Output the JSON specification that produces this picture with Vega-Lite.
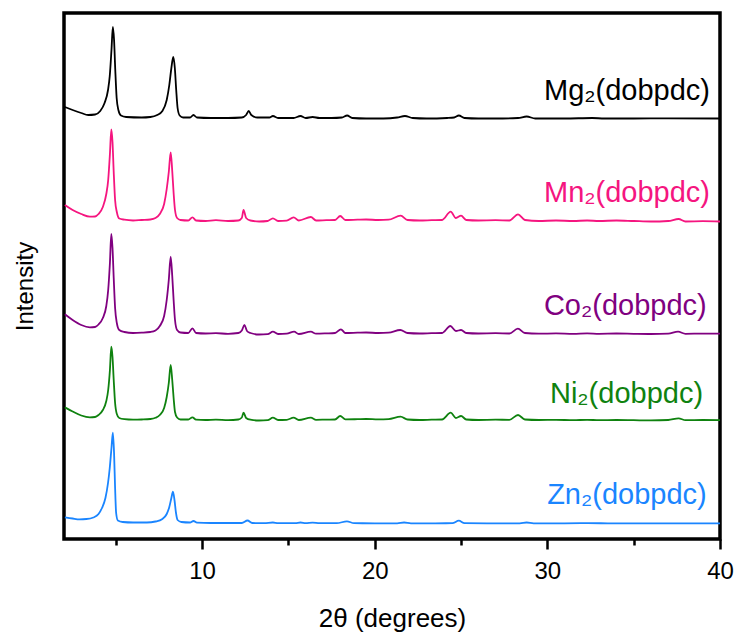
{
  "$schema": "https://vega.github.io/schema/vega-lite/v6.json",
  "width": 656,
  "height": 526,
  "autosize": {"type": "none"},
  "padding": {"left": 64, "top": 13, "right": 18, "bottom": 95},
  "background": "white",
  "config": {
    "view": {"stroke": "black", "strokeWidth": 3.5},
    "font": "Liberation Sans",
    "axis": {"grid": false, "labelFont": "Liberation Sans", "titleFont": "Liberation Sans"}
  },
  "datasets": {
    "xrd": [
      {"sample":"Mg","theta":2.05,"intensity":431},{"sample":"Mg","theta":2.5,"intensity":428},{"sample":"Mg","theta":3.0,"intensity":425},{"sample":"Mg","theta":3.4,"intensity":423},{"sample":"Mg","theta":3.8,"intensity":423.5},{"sample":"Mg","theta":4.1,"intensity":427},{"sample":"Mg","theta":4.35,"intensity":435},{"sample":"Mg","theta":4.55,"intensity":448},{"sample":"Mg","theta":4.65,"intensity":462},{"sample":"Mg","theta":4.75,"intensity":488},{"sample":"Mg","theta":4.83,"intensity":511},{"sample":"Mg","theta":4.9,"intensity":498},{"sample":"Mg","theta":4.97,"intensity":468},{"sample":"Mg","theta":5.05,"intensity":440},{"sample":"Mg","theta":5.15,"intensity":428},{"sample":"Mg","theta":5.3,"intensity":422.5},{"sample":"Mg","theta":5.6,"intensity":421},{"sample":"Mg","theta":6.5,"intensity":420.5},{"sample":"Mg","theta":7.0,"intensity":421},{"sample":"Mg","theta":7.4,"intensity":423},{"sample":"Mg","theta":7.7,"intensity":427},{"sample":"Mg","theta":7.95,"intensity":438},{"sample":"Mg","theta":8.1,"intensity":453},{"sample":"Mg","theta":8.22,"intensity":470},{"sample":"Mg","theta":8.33,"intensity":481},{"sample":"Mg","theta":8.42,"intensity":470},{"sample":"Mg","theta":8.5,"intensity":448},{"sample":"Mg","theta":8.58,"intensity":430},{"sample":"Mg","theta":8.7,"intensity":422.5},{"sample":"Mg","theta":8.9,"intensity":420.5},{"sample":"Mg","theta":9.3,"intensity":420.5},{"sample":"Mg","theta":9.5,"intensity":423},{"sample":"Mg","theta":9.7,"intensity":420.5},{"sample":"Mg","theta":10.5,"intensity":420},{"sample":"Mg","theta":11.5,"intensity":420},{"sample":"Mg","theta":12.3,"intensity":420.5},{"sample":"Mg","theta":12.55,"intensity":423},{"sample":"Mg","theta":12.7,"intensity":427},{"sample":"Mg","theta":12.85,"intensity":423},{"sample":"Mg","theta":13.2,"intensity":420.5},{"sample":"Mg","theta":13.9,"intensity":420.5},{"sample":"Mg","theta":14.1,"intensity":422},{"sample":"Mg","theta":14.4,"intensity":420},{"sample":"Mg","theta":15.3,"intensity":420},{"sample":"Mg","theta":15.7,"intensity":422},{"sample":"Mg","theta":16.0,"intensity":420},{"sample":"Mg","theta":16.4,"intensity":421},{"sample":"Mg","theta":16.8,"intensity":420},{"sample":"Mg","theta":17.5,"intensity":420},{"sample":"Mg","theta":18.1,"intensity":420.5},{"sample":"Mg","theta":18.4,"intensity":422.5},{"sample":"Mg","theta":18.7,"intensity":420},{"sample":"Mg","theta":19.5,"intensity":419.5},{"sample":"Mg","theta":20.5,"intensity":419.5},{"sample":"Mg","theta":21.3,"intensity":420.5},{"sample":"Mg","theta":21.75,"intensity":422},{"sample":"Mg","theta":22.2,"intensity":420},{"sample":"Mg","theta":23.0,"intensity":419.5},{"sample":"Mg","theta":24.2,"intensity":420},{"sample":"Mg","theta":24.6,"intensity":420.5},{"sample":"Mg","theta":24.87,"intensity":422.5},{"sample":"Mg","theta":25.2,"intensity":420},{"sample":"Mg","theta":26.0,"intensity":419.5},{"sample":"Mg","theta":27.0,"intensity":419.5},{"sample":"Mg","theta":28.3,"intensity":420},{"sample":"Mg","theta":28.8,"intensity":421.5},{"sample":"Mg","theta":29.3,"intensity":419.5},{"sample":"Mg","theta":31.0,"intensity":419.5},{"sample":"Mg","theta":32.6,"intensity":420},{"sample":"Mg","theta":33.3,"intensity":419.5},{"sample":"Mg","theta":35.0,"intensity":419.5},{"sample":"Mg","theta":37.0,"intensity":419.7},{"sample":"Mg","theta":40.0,"intensity":419.5},

      {"sample":"Mn","theta":2.05,"intensity":333},{"sample":"Mn","theta":2.5,"intensity":328},{"sample":"Mn","theta":3.0,"intensity":324},{"sample":"Mn","theta":3.5,"intensity":321.3},{"sample":"Mn","theta":3.8,"intensity":321.5},{"sample":"Mn","theta":4.0,"intensity":324},{"sample":"Mn","theta":4.25,"intensity":331},{"sample":"Mn","theta":4.45,"intensity":344},{"sample":"Mn","theta":4.56,"intensity":358},{"sample":"Mn","theta":4.66,"intensity":384},{"sample":"Mn","theta":4.74,"intensity":408.7},{"sample":"Mn","theta":4.81,"intensity":396},{"sample":"Mn","theta":4.88,"intensity":366},{"sample":"Mn","theta":4.96,"intensity":338},{"sample":"Mn","theta":5.06,"intensity":326},{"sample":"Mn","theta":5.2,"intensity":319.5},{"sample":"Mn","theta":5.5,"intensity":318.3},{"sample":"Mn","theta":6.0,"intensity":317.5},{"sample":"Mn","theta":6.5,"intensity":318},{"sample":"Mn","theta":7.0,"intensity":318.5},{"sample":"Mn","theta":7.3,"intensity":320},{"sample":"Mn","theta":7.55,"intensity":324},{"sample":"Mn","theta":7.8,"intensity":334},{"sample":"Mn","theta":7.95,"intensity":349},{"sample":"Mn","theta":8.07,"intensity":366},{"sample":"Mn","theta":8.18,"intensity":385.7},{"sample":"Mn","theta":8.27,"intensity":367},{"sample":"Mn","theta":8.35,"intensity":345},{"sample":"Mn","theta":8.43,"intensity":328},{"sample":"Mn","theta":8.55,"intensity":320},{"sample":"Mn","theta":8.75,"intensity":318},{"sample":"Mn","theta":9.2,"intensity":317.5},{"sample":"Mn","theta":9.44,"intensity":320.7},{"sample":"Mn","theta":9.65,"intensity":317.5},{"sample":"Mn","theta":10.2,"intensity":317},{"sample":"Mn","theta":10.8,"intensity":317.8},{"sample":"Mn","theta":11.5,"intensity":317},{"sample":"Mn","theta":12.1,"intensity":317.5},{"sample":"Mn","theta":12.3,"intensity":320},{"sample":"Mn","theta":12.4,"intensity":328},{"sample":"Mn","theta":12.55,"intensity":320},{"sample":"Mn","theta":12.8,"intensity":317.5},{"sample":"Mn","theta":13.3,"intensity":316.5},{"sample":"Mn","theta":13.8,"intensity":317},{"sample":"Mn","theta":14.1,"intensity":319.7},{"sample":"Mn","theta":14.4,"intensity":317},{"sample":"Mn","theta":14.9,"intensity":317.3},{"sample":"Mn","theta":15.3,"intensity":320.7},{"sample":"Mn","theta":15.6,"intensity":317.5},{"sample":"Mn","theta":16.3,"intensity":321},{"sample":"Mn","theta":16.6,"intensity":317.5},{"sample":"Mn","theta":17.2,"intensity":317.8},{"sample":"Mn","theta":17.7,"intensity":318},{"sample":"Mn","theta":18.0,"intensity":322},{"sample":"Mn","theta":18.3,"intensity":318},{"sample":"Mn","theta":19.0,"intensity":318.3},{"sample":"Mn","theta":19.5,"intensity":318.5},{"sample":"Mn","theta":20.2,"intensity":318},{"sample":"Mn","theta":20.8,"intensity":318.3},{"sample":"Mn","theta":21.5,"intensity":322.3},{"sample":"Mn","theta":21.9,"intensity":318},{"sample":"Mn","theta":22.6,"intensity":317.5},{"sample":"Mn","theta":23.3,"intensity":317.8},{"sample":"Mn","theta":23.9,"intensity":318},{"sample":"Mn","theta":24.4,"intensity":326.3},{"sample":"Mn","theta":24.7,"intensity":320},{"sample":"Mn","theta":25.0,"intensity":322.3},{"sample":"Mn","theta":25.3,"intensity":318},{"sample":"Mn","theta":26.0,"intensity":317.5},{"sample":"Mn","theta":27.0,"intensity":317.8},{"sample":"Mn","theta":27.8,"intensity":317.5},{"sample":"Mn","theta":28.3,"intensity":323.7},{"sample":"Mn","theta":28.7,"intensity":318},{"sample":"Mn","theta":29.5,"intensity":317},{"sample":"Mn","theta":30.5,"intensity":317.5},{"sample":"Mn","theta":31.5,"intensity":317},{"sample":"Mn","theta":32.3,"intensity":317.5},{"sample":"Mn","theta":33.0,"intensity":317},{"sample":"Mn","theta":34.0,"intensity":317.5},{"sample":"Mn","theta":35.0,"intensity":317},{"sample":"Mn","theta":36.0,"intensity":316.5},{"sample":"Mn","theta":37.0,"intensity":317},{"sample":"Mn","theta":37.6,"intensity":319},{"sample":"Mn","theta":38.0,"intensity":316.5},{"sample":"Mn","theta":39.0,"intensity":316.8},{"sample":"Mn","theta":40.0,"intensity":316.5},

      {"sample":"Co","theta":2.05,"intensity":223.7},{"sample":"Co","theta":2.5,"intensity":218},{"sample":"Co","theta":3.0,"intensity":213},{"sample":"Co","theta":3.5,"intensity":210.7},{"sample":"Co","theta":3.8,"intensity":211},{"sample":"Co","theta":4.0,"intensity":213.5},{"sample":"Co","theta":4.25,"intensity":220},{"sample":"Co","theta":4.45,"intensity":232},{"sample":"Co","theta":4.56,"intensity":248},{"sample":"Co","theta":4.66,"intensity":275},{"sample":"Co","theta":4.74,"intensity":304},{"sample":"Co","theta":4.81,"intensity":290},{"sample":"Co","theta":4.88,"intensity":260},{"sample":"Co","theta":4.96,"intensity":230},{"sample":"Co","theta":5.06,"intensity":215},{"sample":"Co","theta":5.2,"intensity":208},{"sample":"Co","theta":5.5,"intensity":206},{"sample":"Co","theta":6.0,"intensity":205},{"sample":"Co","theta":6.5,"intensity":205.3},{"sample":"Co","theta":7.0,"intensity":206},{"sample":"Co","theta":7.3,"intensity":207.5},{"sample":"Co","theta":7.55,"intensity":212},{"sample":"Co","theta":7.8,"intensity":222},{"sample":"Co","theta":7.95,"intensity":238},{"sample":"Co","theta":8.07,"intensity":258},{"sample":"Co","theta":8.18,"intensity":281.3},{"sample":"Co","theta":8.27,"intensity":262},{"sample":"Co","theta":8.35,"intensity":238},{"sample":"Co","theta":8.43,"intensity":218},{"sample":"Co","theta":8.55,"intensity":208},{"sample":"Co","theta":8.75,"intensity":205.5},{"sample":"Co","theta":9.2,"intensity":205},{"sample":"Co","theta":9.44,"intensity":209.7},{"sample":"Co","theta":9.65,"intensity":205},{"sample":"Co","theta":10.2,"intensity":204.5},{"sample":"Co","theta":10.8,"intensity":204.8},{"sample":"Co","theta":11.5,"intensity":204.2},{"sample":"Co","theta":12.1,"intensity":205},{"sample":"Co","theta":12.3,"intensity":207.5},{"sample":"Co","theta":12.45,"intensity":213},{"sample":"Co","theta":12.6,"intensity":207},{"sample":"Co","theta":12.8,"intensity":205},{"sample":"Co","theta":13.3,"intensity":203.5},{"sample":"Co","theta":13.8,"intensity":203.8},{"sample":"Co","theta":14.1,"intensity":206.3},{"sample":"Co","theta":14.4,"intensity":204},{"sample":"Co","theta":14.9,"intensity":204.3},{"sample":"Co","theta":15.33,"intensity":206.3},{"sample":"Co","theta":15.6,"intensity":204},{"sample":"Co","theta":16.3,"intensity":206.3},{"sample":"Co","theta":16.6,"intensity":204.3},{"sample":"Co","theta":17.2,"intensity":204.6},{"sample":"Co","theta":17.7,"intensity":205},{"sample":"Co","theta":18.04,"intensity":208.7},{"sample":"Co","theta":18.3,"intensity":205},{"sample":"Co","theta":19.0,"intensity":205.3},{"sample":"Co","theta":19.5,"intensity":205.5},{"sample":"Co","theta":20.2,"intensity":205},{"sample":"Co","theta":20.8,"intensity":205.3},{"sample":"Co","theta":21.48,"intensity":208},{"sample":"Co","theta":21.9,"intensity":205},{"sample":"Co","theta":22.6,"intensity":204.5},{"sample":"Co","theta":23.3,"intensity":204.8},{"sample":"Co","theta":23.9,"intensity":205},{"sample":"Co","theta":24.38,"intensity":212},{"sample":"Co","theta":24.7,"intensity":207},{"sample":"Co","theta":25.0,"intensity":208},{"sample":"Co","theta":25.3,"intensity":205},{"sample":"Co","theta":26.0,"intensity":204.5},{"sample":"Co","theta":27.0,"intensity":204.8},{"sample":"Co","theta":27.8,"intensity":204.5},{"sample":"Co","theta":28.29,"intensity":209.3},{"sample":"Co","theta":28.7,"intensity":205},{"sample":"Co","theta":29.5,"intensity":204.3},{"sample":"Co","theta":30.5,"intensity":204.6},{"sample":"Co","theta":31.5,"intensity":204.2},{"sample":"Co","theta":32.3,"intensity":204.6},{"sample":"Co","theta":33.0,"intensity":204.2},{"sample":"Co","theta":34.0,"intensity":204.5},{"sample":"Co","theta":35.0,"intensity":204.2},{"sample":"Co","theta":36.0,"intensity":204},{"sample":"Co","theta":37.0,"intensity":204.4},{"sample":"Co","theta":37.57,"intensity":206.3},{"sample":"Co","theta":38.0,"intensity":204.2},{"sample":"Co","theta":39.0,"intensity":204.4},{"sample":"Co","theta":40.0,"intensity":204.3},

      {"sample":"Ni","theta":2.05,"intensity":130.7},{"sample":"Ni","theta":2.5,"intensity":126.5},{"sample":"Ni","theta":3.0,"intensity":122.5},{"sample":"Ni","theta":3.5,"intensity":120.7},{"sample":"Ni","theta":3.8,"intensity":121},{"sample":"Ni","theta":4.0,"intensity":123},{"sample":"Ni","theta":4.25,"intensity":128},{"sample":"Ni","theta":4.45,"intensity":137},{"sample":"Ni","theta":4.56,"intensity":148},{"sample":"Ni","theta":4.66,"intensity":168},{"sample":"Ni","theta":4.74,"intensity":191.3},{"sample":"Ni","theta":4.81,"intensity":181},{"sample":"Ni","theta":4.88,"intensity":158},{"sample":"Ni","theta":4.96,"intensity":135},{"sample":"Ni","theta":5.06,"intensity":124},{"sample":"Ni","theta":5.2,"intensity":120},{"sample":"Ni","theta":5.5,"intensity":118.8},{"sample":"Ni","theta":6.0,"intensity":118.3},{"sample":"Ni","theta":6.5,"intensity":118.5},{"sample":"Ni","theta":7.0,"intensity":119},{"sample":"Ni","theta":7.3,"intensity":120.2},{"sample":"Ni","theta":7.55,"intensity":123},{"sample":"Ni","theta":7.8,"intensity":130},{"sample":"Ni","theta":7.95,"intensity":141},{"sample":"Ni","theta":8.07,"intensity":155},{"sample":"Ni","theta":8.18,"intensity":173},{"sample":"Ni","theta":8.27,"intensity":158},{"sample":"Ni","theta":8.35,"intensity":140},{"sample":"Ni","theta":8.43,"intensity":126},{"sample":"Ni","theta":8.55,"intensity":120.5},{"sample":"Ni","theta":8.75,"intensity":118.5},{"sample":"Ni","theta":9.2,"intensity":118.5},{"sample":"Ni","theta":9.44,"intensity":120.7},{"sample":"Ni","theta":9.65,"intensity":118.3},{"sample":"Ni","theta":10.2,"intensity":118},{"sample":"Ni","theta":10.8,"intensity":118.4},{"sample":"Ni","theta":11.5,"intensity":117.8},{"sample":"Ni","theta":12.1,"intensity":118.5},{"sample":"Ni","theta":12.3,"intensity":120.5},{"sample":"Ni","theta":12.4,"intensity":125.3},{"sample":"Ni","theta":12.55,"intensity":120},{"sample":"Ni","theta":12.8,"intensity":118.3},{"sample":"Ni","theta":13.3,"intensity":117.5},{"sample":"Ni","theta":13.8,"intensity":117.8},{"sample":"Ni","theta":14.1,"intensity":120.3},{"sample":"Ni","theta":14.4,"intensity":118},{"sample":"Ni","theta":14.9,"intensity":118.2},{"sample":"Ni","theta":15.3,"intensity":120.3},{"sample":"Ni","theta":15.6,"intensity":118},{"sample":"Ni","theta":16.3,"intensity":120.3},{"sample":"Ni","theta":16.6,"intensity":118.2},{"sample":"Ni","theta":17.2,"intensity":118.4},{"sample":"Ni","theta":17.7,"intensity":118.5},{"sample":"Ni","theta":18.0,"intensity":122},{"sample":"Ni","theta":18.3,"intensity":118.6},{"sample":"Ni","theta":19.0,"intensity":118.8},{"sample":"Ni","theta":19.5,"intensity":119},{"sample":"Ni","theta":20.2,"intensity":118.6},{"sample":"Ni","theta":20.8,"intensity":118.8},{"sample":"Ni","theta":21.5,"intensity":121.3},{"sample":"Ni","theta":21.9,"intensity":118.5},{"sample":"Ni","theta":22.6,"intensity":118},{"sample":"Ni","theta":23.3,"intensity":118.3},{"sample":"Ni","theta":23.9,"intensity":118.5},{"sample":"Ni","theta":24.4,"intensity":125.3},{"sample":"Ni","theta":24.7,"intensity":120},{"sample":"Ni","theta":25.0,"intensity":122},{"sample":"Ni","theta":25.3,"intensity":118.5},{"sample":"Ni","theta":26.0,"intensity":118},{"sample":"Ni","theta":27.0,"intensity":118.3},{"sample":"Ni","theta":27.8,"intensity":118.2},{"sample":"Ni","theta":28.3,"intensity":123},{"sample":"Ni","theta":28.7,"intensity":118.5},{"sample":"Ni","theta":29.5,"intensity":118},{"sample":"Ni","theta":30.5,"intensity":118.2},{"sample":"Ni","theta":31.5,"intensity":117.8},{"sample":"Ni","theta":32.3,"intensity":118.2},{"sample":"Ni","theta":33.0,"intensity":117.8},{"sample":"Ni","theta":34.0,"intensity":118},{"sample":"Ni","theta":35.0,"intensity":117.8},{"sample":"Ni","theta":36.0,"intensity":117.6},{"sample":"Ni","theta":37.0,"intensity":118},{"sample":"Ni","theta":37.6,"intensity":119.7},{"sample":"Ni","theta":38.0,"intensity":117.8},{"sample":"Ni","theta":39.0,"intensity":118},{"sample":"Ni","theta":40.0,"intensity":117.8},

      {"sample":"Zn","theta":2.05,"intensity":20.7},{"sample":"Zn","theta":2.5,"intensity":19.5},{"sample":"Zn","theta":2.9,"intensity":18.7},{"sample":"Zn","theta":3.3,"intensity":19},{"sample":"Zn","theta":3.7,"intensity":20.5},{"sample":"Zn","theta":4.0,"intensity":24},{"sample":"Zn","theta":4.2,"intensity":30},{"sample":"Zn","theta":4.4,"intensity":40},{"sample":"Zn","theta":4.55,"intensity":55},{"sample":"Zn","theta":4.65,"intensity":70},{"sample":"Zn","theta":4.75,"intensity":90},{"sample":"Zn","theta":4.83,"intensity":105.3},{"sample":"Zn","theta":4.9,"intensity":85},{"sample":"Zn","theta":4.96,"intensity":50},{"sample":"Zn","theta":5.02,"intensity":25},{"sample":"Zn","theta":5.12,"intensity":17.5},{"sample":"Zn","theta":5.4,"intensity":16},{"sample":"Zn","theta":6.0,"intensity":15.5},{"sample":"Zn","theta":6.8,"intensity":15.5},{"sample":"Zn","theta":7.3,"intensity":16.5},{"sample":"Zn","theta":7.7,"intensity":19},{"sample":"Zn","theta":7.95,"intensity":24},{"sample":"Zn","theta":8.1,"intensity":31},{"sample":"Zn","theta":8.22,"intensity":40},{"sample":"Zn","theta":8.31,"intensity":46.3},{"sample":"Zn","theta":8.4,"intensity":38},{"sample":"Zn","theta":8.48,"intensity":26},{"sample":"Zn","theta":8.58,"intensity":18},{"sample":"Zn","theta":8.8,"intensity":16},{"sample":"Zn","theta":9.3,"intensity":15.5},{"sample":"Zn","theta":9.5,"intensity":17},{"sample":"Zn","theta":9.7,"intensity":15.3},{"sample":"Zn","theta":10.5,"intensity":15},{"sample":"Zn","theta":11.5,"intensity":15},{"sample":"Zn","theta":12.3,"intensity":15},{"sample":"Zn","theta":12.63,"intensity":17.5},{"sample":"Zn","theta":12.9,"intensity":15},{"sample":"Zn","theta":13.6,"intensity":14.8},{"sample":"Zn","theta":14.1,"intensity":15.5},{"sample":"Zn","theta":14.4,"intensity":14.8},{"sample":"Zn","theta":15.4,"intensity":14.8},{"sample":"Zn","theta":15.7,"intensity":15.5},{"sample":"Zn","theta":16.0,"intensity":14.8},{"sample":"Zn","theta":16.4,"intensity":15.4},{"sample":"Zn","theta":16.8,"intensity":14.8},{"sample":"Zn","theta":17.8,"intensity":14.8},{"sample":"Zn","theta":18.39,"intensity":16.7},{"sample":"Zn","theta":18.8,"intensity":14.8},{"sample":"Zn","theta":20.0,"intensity":14.7},{"sample":"Zn","theta":21.3,"intensity":14.7},{"sample":"Zn","theta":21.7,"intensity":15.5},{"sample":"Zn","theta":22.1,"intensity":14.7},{"sample":"Zn","theta":23.5,"intensity":14.7},{"sample":"Zn","theta":24.5,"intensity":14.8},{"sample":"Zn","theta":24.87,"intensity":17.3},{"sample":"Zn","theta":25.2,"intensity":14.8},{"sample":"Zn","theta":26.5,"intensity":14.7},{"sample":"Zn","theta":28.4,"intensity":14.7},{"sample":"Zn","theta":28.8,"intensity":15.5},{"sample":"Zn","theta":29.2,"intensity":14.7},{"sample":"Zn","theta":31.0,"intensity":14.7},{"sample":"Zn","theta":32.3,"intensity":14.8},{"sample":"Zn","theta":33.5,"intensity":14.7},{"sample":"Zn","theta":35.0,"intensity":14.6},{"sample":"Zn","theta":37.0,"intensity":14.7},{"sample":"Zn","theta":40.0,"intensity":14.6}
    ],
    "labels": [
      {"sample":"Mg","label":"Mg₂(dobpdc)","theta":39.42,"intensity":438},
      {"sample":"Mn","label":"Mn₂(dobpdc)","theta":39.42,"intensity":336.5},
      {"sample":"Co","label":"Co₂(dobpdc)","theta":39.23,"intensity":223},
      {"sample":"Ni","label":"Ni₂(dobpdc)","theta":39.02,"intensity":134.7},
      {"sample":"Zn","label":"Zn₂(dobpdc)","theta":39.23,"intensity":34}
    ]
  },
  "resolve": {"axis": {"x": "independent"}},
  "layer": [
    {
      "data": {"name": "xrd"},
      "mark": {"type": "line", "strokeWidth": 1.8, "interpolate": "monotone", "clip": true},
      "encoding": {
        "x": {
          "field": "theta", "type": "quantitative",
          "scale": {"domain": [2, 40], "nice": false, "zero": false},
          "axis": {
            "orient": "bottom",
            "values": [10, 20, 30, 40],
            "domain": false,
            "ticks": true, "tickSize": 10, "tickWidth": 2.5, "tickColor": "black",
            "labelFontSize": 24, "labelColor": "black", "labelBaseline": "alphabetic", "labelPadding": 29,
            "labelFlush": false, "labelOverlap": false,
            "title": "2θ (degrees)", "titleFontSize": 26, "titleFontWeight": "normal", "titleColor": "black",
            "titleBaseline": "alphabetic", "titleY": 87
          }
        },
        "y": {
          "field": "intensity", "type": "quantitative",
          "scale": {"domain": [-1, 525], "nice": false, "zero": false},
          "axis": {
            "domain": false, "ticks": false, "labels": false,
            "title": "Intensity", "titleFontSize": 24, "titleFontWeight": "normal", "titleColor": "black",
            "titleBaseline": "alphabetic", "titleX": -32, "titleY": 273
          }
        },
        "color": {
          "field": "sample", "type": "nominal",
          "scale": {"domain": ["Mg", "Mn", "Co", "Ni", "Zn"], "range": ["#000000", "#f5157f", "#800080", "#0f820f", "#1a85ff"]},
          "legend": null
        }
      }
    },
    {
      "data": {"name": "labels"},
      "mark": {"type": "text", "align": "right", "baseline": "alphabetic", "fontSize": 29, "font": "Liberation Sans"},
      "encoding": {
        "x": {
          "field": "theta", "type": "quantitative",
          "scale": {"domain": [2, 40], "nice": false, "zero": false},
          "axis": {
            "orient": "bottom",
            "values": [5, 15, 25, 35],
            "domain": false, "labels": false, "grid": false,
            "tickSize": 6, "tickWidth": 2.5, "tickColor": "black",
            "title": null
          }
        },
        "y": {"field": "intensity", "type": "quantitative", "scale": {"domain": [-1, 525], "nice": false, "zero": false}},
        "text": {"field": "label", "type": "nominal"},
        "color": {"field": "sample", "type": "nominal", "legend": null}
      }
    }
  ]
}
